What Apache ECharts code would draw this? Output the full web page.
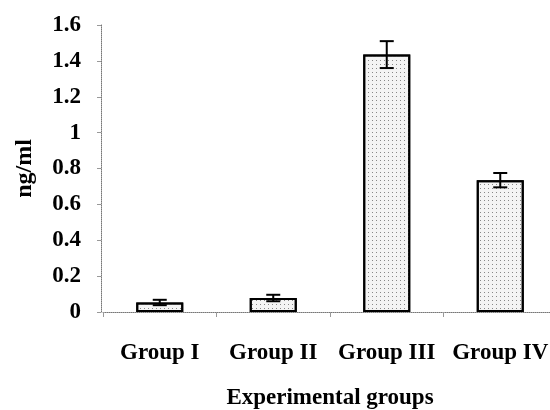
<!DOCTYPE html>
<html><head><meta charset="utf-8">
<script src="https://cdn.jsdelivr.net/npm/echarts@6/dist/echarts.min.js"></script>
<style>html,body{margin:0;padding:0;background:#fff}#c{width:550px;height:410px}</style>
</head><body><div id="c"></div>
<script>
var categories = ['Group I', 'Group II', 'Group III', 'Group IV'];
var values = [0.053, 0.078, 1.435, 0.735];
var errors = [0.015, 0.018, 0.075, 0.04];
var yTicks = [0, 0.2, 0.4, 0.6, 0.8, 1, 1.2, 1.4, 1.6];

var font = 'Liberation Serif';
var chart = echarts.init(document.getElementById('c'));
chart.setOption({
  backgroundColor: '#fff',
  animation: false,
  grid: { left: 103, top: 25, width: 454, height: 287, containLabel: false, outerBoundsMode: 'none' },
  xAxis: {
    type: 'category', data: categories,
    axisLine: { lineStyle: { color: '#777', type: 'dotted', width: 1 } },
    axisTick: { show: true, length: 5, lineStyle: { color: '#999' } },
    axisLabel: { color: '#000', fontFamily: font, fontWeight: 'bold', fontSize: 23, margin: 30, interval: 0 },
    name: 'Experimental groups', nameLocation: 'middle', nameGap: 75,
    nameTextStyle: { color: '#000', fontFamily: font, fontWeight: 'bold', fontSize: 23 }
  },
  yAxis: {
    type: 'value', min: yTicks[0], max: yTicks[yTicks.length - 1], interval: 0.2,
    offset: 2,
    splitLine: { show: false },
    axisLine: { show: true, lineStyle: { color: '#777', type: 'dotted', width: 1 } },
    axisTick: { show: true, length: 4, lineStyle: { color: '#999' } },
    axisLabel: { color: '#000', fontFamily: font, fontWeight: 'bold', fontSize: 23, margin: 20 },
    name: 'ng/ml', nameLocation: 'middle', nameGap: 64, nameRotate: 90,
    nameTextStyle: { color: '#000', fontFamily: font, fontWeight: 'bold', fontSize: 24 }
  },
  series: [{
    type: 'bar', data: values, barWidth: 47,
    itemStyle: {
      color: '#f4f4f4', borderColor: '#000', borderWidth: 2,
      decal: { symbol: 'rect', symbolSize: 1, color: '#888', dashArrayX: [1, 3], dashArrayY: [1, 3], rotation: 0 }
    }
  }, {
    type: 'custom', data: values.map(function (v, i) { return [i, v, errors[i]]; }),
    z: 10,
    renderItem: function (params, api) {
      var i = api.value(0), v = api.value(1), e = api.value(2);
      var hi = api.coord([i, v + e]), lo = api.coord([i, v - e]);
      var w = 7;
      var st = { stroke: '#000', lineWidth: 2 };
      return { type: 'group', children: [
        { type: 'line', shape: { x1: hi[0], y1: hi[1], x2: lo[0], y2: lo[1] }, style: st },
        { type: 'line', shape: { x1: hi[0] - w, y1: hi[1], x2: hi[0] + w, y2: hi[1] }, style: st },
        { type: 'line', shape: { x1: lo[0] - w, y1: lo[1], x2: lo[0] + w, y2: lo[1] }, style: st }
      ]};
    }
  }]
});
</script></body></html>
